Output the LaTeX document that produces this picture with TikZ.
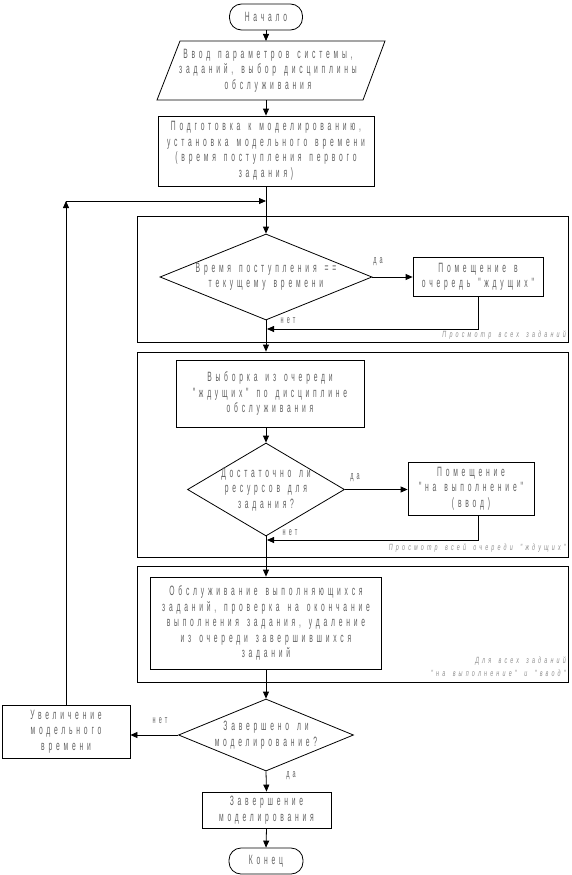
\documentclass[tikz,border=0pt]{standalone}
\usepackage{fontspec}
\usetikzlibrary{arrows.meta,shapes.geometric}
\newfontfamily\tf[FakeStretch=0.5,LetterSpace=28,WordSpace=1.4]{Liberation Sans}
\newfontfamily\nf[FakeStretch=0.6,LetterSpace=35,WordSpace=1.6]{Liberation Sans}
\newcommand\mainf{\tf\fontsize{13.5}{15.5}\selectfont}
\newcommand\lblf{\tf\fontsize{11}{13}\selectfont}
\newcommand\notef{\nf\itshape\fontsize{9}{11}\selectfont}
\definecolor{txt}{gray}{0.38}
\begin{document}
\begin{tikzpicture}[x=1pt,y=-1pt,
 ln/.style={line width=0.8pt},
 proc/.style={draw, line width=0.8pt, inner sep=0pt, align=center, font=\mainf, text=txt},
 term/.style={proc, rounded corners=12pt},
 blk/.style={draw, line width=0.8pt, inner sep=0pt},
 dec/.style={diamond, draw, line width=0.8pt, inner sep=0pt},
 dtext/.style={align=center, font=\mainf, text=txt, inner sep=0pt},
 lbl/.style={font=\lblf, text=txt, inner sep=0pt},
 note/.style={font=\notef, text=txt!70, inner sep=0pt, anchor=east},
 arr/.style={line width=0.8pt, -{Triangle[length=7pt,width=6pt]}}]
\useasboundingbox (0,0) rectangle (571,875);

% blocks (frames)
\node[blk, minimum width=431pt, minimum height=126pt] (blk1) at (352.5,279) {};
\node[blk, minimum width=431pt, minimum height=205pt] (blk2) at (352.5,454.5) {};
\node[blk, minimum width=431pt, minimum height=116pt] (blk3) at (352.5,624) {};

% top
\node[term, minimum width=73pt, minimum height=26pt] (start) at (266,17) {Начало};
\draw[ln] (180,41) -- (385,41) -- (363,100) -- (157,100) -- cycle;
\coordinate (partop) at (266,41);
\coordinate (parbot) at (266,100);
\node[dtext] (par) at (268,70.5) {Ввод параметров системы,\\заданий, выбор дисциплины\\обслуживания};
\node[proc, minimum width=216pt, minimum height=70pt] (prep) at (266,151) {Подготовка к моделированию,\\установка модельного времени\\(время поступления первого\\задания)};
\coordinate (junc) at (266,201);
\coordinate (loopc) at (66,201);

% block 1
\node[dec, minimum width=212pt, minimum height=86pt] (d1) at (266,277) {};
\node[dtext] (d1t) at (266,277) {Время поступления ==\\текущему времени};
\node[proc, minimum width=130pt, minimum height=39pt] (q1) at (478,277) {Помещение в\\очередь "ждущих"};
\coordinate (ret1) at (267,329);

% block 2
\node[proc, minimum width=188pt, minimum height=67pt] (sel) at (270,393.5) {Выборка из очереди\\"ждущих" по дисциплине\\обслуживания};
\node[dec, minimum width=157pt, minimum height=93pt] (d2) at (266,489.5) {};
\node[dtext] (d2t) at (266,489.5) {Достаточно ли\\ресурсов для\\задания?};
\node[proc, minimum width=126pt, minimum height=53pt] (q2) at (471,488.5) {Помещение\\"на выполнение"\\(ввод)};
\coordinate (ret2) at (267,540);

% block 3
\node[proc, minimum width=231pt, minimum height=92pt] (serv) at (266,623) {Обслуживание выполняющихся\\заданий, проверка на окончание\\выполнения задания, удаление\\из очереди завершившихся\\заданий};

% bottom
\node[dec, minimum width=175pt, minimum height=72pt] (d3) at (266,735) {};
\node[dtext] (d3t) at (266,735) {Завершено ли\\моделирование?};
\node[proc, minimum width=128pt, minimum height=53pt] (inc) at (66,731.5) {Увеличение\\модельного\\времени};
\node[proc, minimum width=129pt, minimum height=36pt] (fin) at (266.5,810) {Завершение\\моделирования};
\node[term, minimum width=74pt, minimum height=26pt] (end) at (266,861) {Конец};

% connectors
\draw[arr] (start.south) -- (partop);
\draw[arr] (parbot) -- (prep.north);
\draw[ln] (prep.south) -- (junc);
\draw[arr] (junc) -- (d1.north);
\draw[arr] (inc.north -| loopc) -- (loopc);
\draw[arr] (loopc) -- (junc);
\draw[arr] (d1.east) -- (q1.west);
\draw[arr] (q1.south) |- (ret1);
\draw[arr] (d1.south) -- (d1.south |- blk2.north);
\draw[arr] (sel.south -| d2.north) -- (d2.north);
\draw[arr] (d2.east) -- (d2.east -| q2.west);
\draw[arr] (q2.south -| q1.south) |- (ret2);
\draw[arr] (d2.south) -- (serv.north);
\draw[arr] (serv.south) -- (d3.north);
\draw[arr] (d3.west) -- (inc.east |- d3.west);
\draw[arr] (d3.south) -- (fin.north);
\draw[arr] (fin.south) -- (end.north);

% labels
\node[lbl] (da1) at (378,262) {да};
\node[lbl] (net1) at (288,321) {нет};
\node[note] (n1) at (566,335) {Просмотр всех заданий};
\node[lbl] (da2) at (355,478) {да};
\node[lbl] (net2) at (290,533) {нет};
\node[note] (n2) at (566,548) {Просмотр всей очереди "ждущих"};
\node[note] (n3) at (566,661) {Для всех заданий};
\node[note] (n4) at (566,673) {"на выполнение" и "ввод"};
\node[lbl] (net3) at (160,721) {нет};
\node[lbl] (da3) at (291,776) {да};
\end{tikzpicture}
\end{document}
